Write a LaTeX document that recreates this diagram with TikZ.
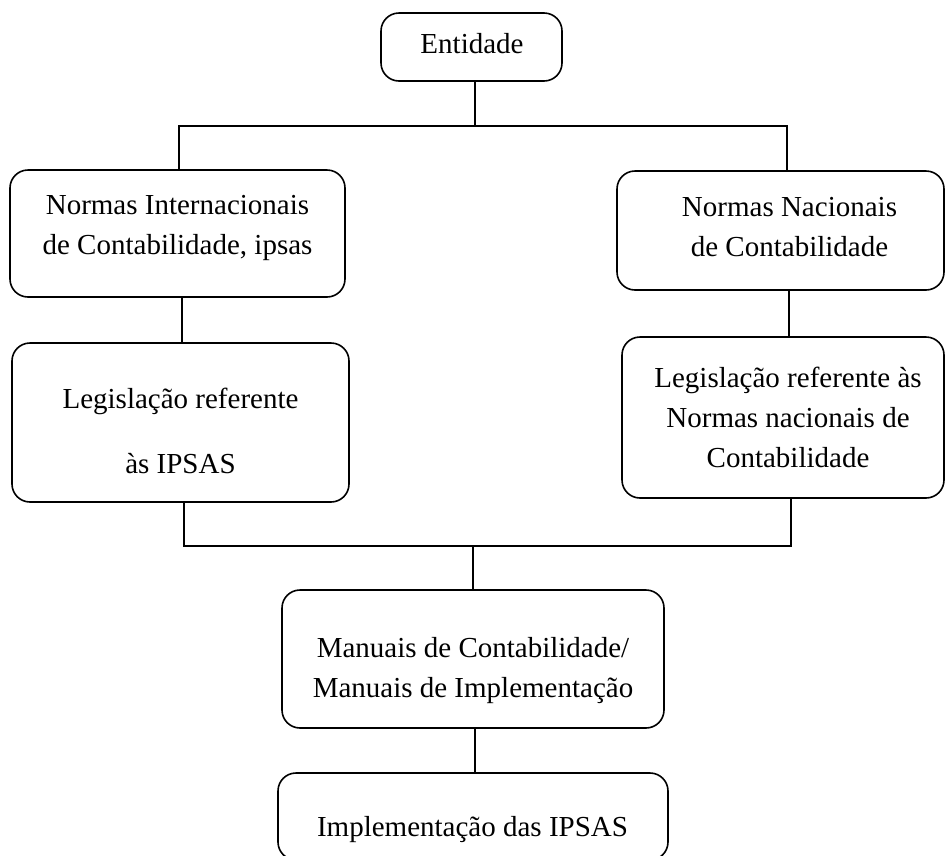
\documentclass[tikz,border=0pt]{standalone}
\usepackage{fontspec}
\setmainfont{Liberation Serif}
\begin{document}
\begin{tikzpicture}[x=1pt,y=-1pt,
  box/.style={draw=black, line width=1.6pt, rounded corners=18pt, inner sep=0pt},
  txt/.style={align=center, inner sep=0pt, font=\fontsize{29}{40}\selectfont},
  conn/.style={draw=black, line width=2.4pt}]
\useasboundingbox (0,0) rectangle (945,855);
\fill[white] (0,0) rectangle (945,855);

% boxes
\node[box, minimum width=181pt, minimum height=68pt] (ent) at (471.5,47) {};
\node[box, minimum width=335pt, minimum height=127pt] (ni) at (177.5,233.5) {};
\node[box, minimum width=327pt, minimum height=119pt] (nn) at (780.5,230.5) {};
\node[box, minimum width=337pt, minimum height=159pt] (li) at (180.5,422.5) {};
\node[box, minimum width=322pt, minimum height=161pt] (ln) at (783,417.5) {};
\node[box, minimum width=382pt, minimum height=138pt] (man) at (473,659) {};
\node[box, minimum width=390pt, minimum height=87pt] (imp) at (473,816.5) {};

% texts
\node[txt] (tent) at (472,44) {Entidade};
\node[txt] (tni) at (177.5,228) {Normas Internacionais\\de Contabilidade, ipsas};
\node[txt] (tnn) at (789.5,227) {Normas Nacionais\\de Contabilidade};
\node[txt] (tli) at (180.5,431) {Legislação referente\\[25pt]às IPSAS};
\node[txt] (tln) at (788,417) {Legislação referente às\\Normas nacionais de\\Contabilidade};
\node[txt] (tman) at (473,671) {Manuais de Contabilidade/\\Manuais de Implementação};
\node[txt] (timp) at (472.5,830) {Implementação das IPSAS};

% junction coordinates
\coordinate (tl) at (179,126);
\coordinate (tr) at (787,126);
\coordinate (tm) at (475,126);
\coordinate (bl) at (184,546);
\coordinate (br) at (791,546);
\coordinate (bm) at (473,546);

% connectors
\draw[conn] (ent.south -| tm) -- (tm);
\draw[conn] (ni.north -| tl) -- (tl) -- (tr) -- (nn.north -| tr);
\draw[conn] ([xshift=4.5pt]ni.south) -- ([xshift=1.5pt]li.north);
\draw[conn] ([xshift=8.5pt]nn.south) -- ([xshift=6pt]ln.north);
\draw[conn] (li.south -| bl) -- (bl) -- (br) -- (ln.south -| br);
\draw[conn] (bm) -- (man.north -| bm);
\draw[conn] ([xshift=2pt]man.south) -- ([xshift=2pt]imp.north);
\end{tikzpicture}
\end{document}
